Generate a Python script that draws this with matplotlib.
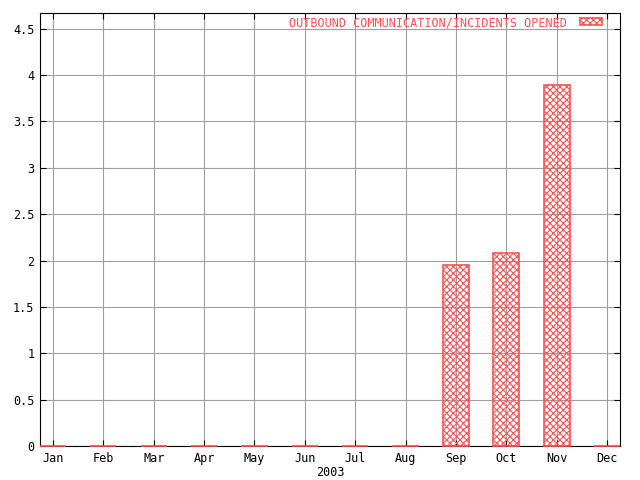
import matplotlib
matplotlib.use("Agg")
import matplotlib.pyplot as plt
from matplotlib.ticker import FuncFormatter

months = ["Jan", "Feb", "Mar", "Apr", "May", "Jun",
          "Jul", "Aug", "Sep", "Oct", "Nov", "Dec"]
incidents = [0, 0, 0, 0, 0, 0, 0, 0, 1.95, 2.08, 3.89, 0]
year_label = "2003"
series_label = "OUTBOUND COMMUNICATION/INCIDENTS OPENED"
yticks = [0, 0.5, 1, 1.5, 2, 2.5, 3, 3.5, 4, 4.5]

plt.rcParams["font.family"] = "DejaVu Sans Mono"
plt.rcParams["hatch.linewidth"] = 0.8

fig = plt.figure(figsize=(6.4, 4.8), dpi=100)
ax = fig.add_axes([40 / 640, 34 / 480, 580 / 640, 433 / 480])

x = list(range(len(months)))
bars = ax.bar(x, incidents, width=0.52, color="none", edgecolor="#ff5050",
              hatch="xxxxx", linewidth=1.2, label=series_label, zorder=3)
for b in bars:
    b.set_clip_on(False)

ax.set_xlim(-0.258, 11.258)
ax.set_ylim(0, 4.67)
ax.set_xticks(x)
ax.set_xticklabels(months)
ax.set_yticks(yticks)
ax.yaxis.set_major_formatter(FuncFormatter(lambda v, p: "%g" % v))
ax.set_xlabel(year_label, fontsize=8.5, labelpad=1)

ax.grid(True, color="#a0a0a0", linewidth=0.8, zorder=0)
ax.tick_params(direction="in", length=4, width=0.8, labelsize=8.5,
               top=True, right=True, pad=4)
for s in ax.spines.values():
    s.set_linewidth(0.8)
    s.set_zorder(2)

ax.legend(loc="upper right", bbox_to_anchor=(562 / 580, 0.993),
          frameon=False, fontsize=8.5, markerfirst=False,
          labelcolor="#ff5050", handlelength=1.86, handleheight=0.5,
          handletextpad=1.1, borderpad=0, borderaxespad=0)

fig.savefig("out.png", dpi=100)
